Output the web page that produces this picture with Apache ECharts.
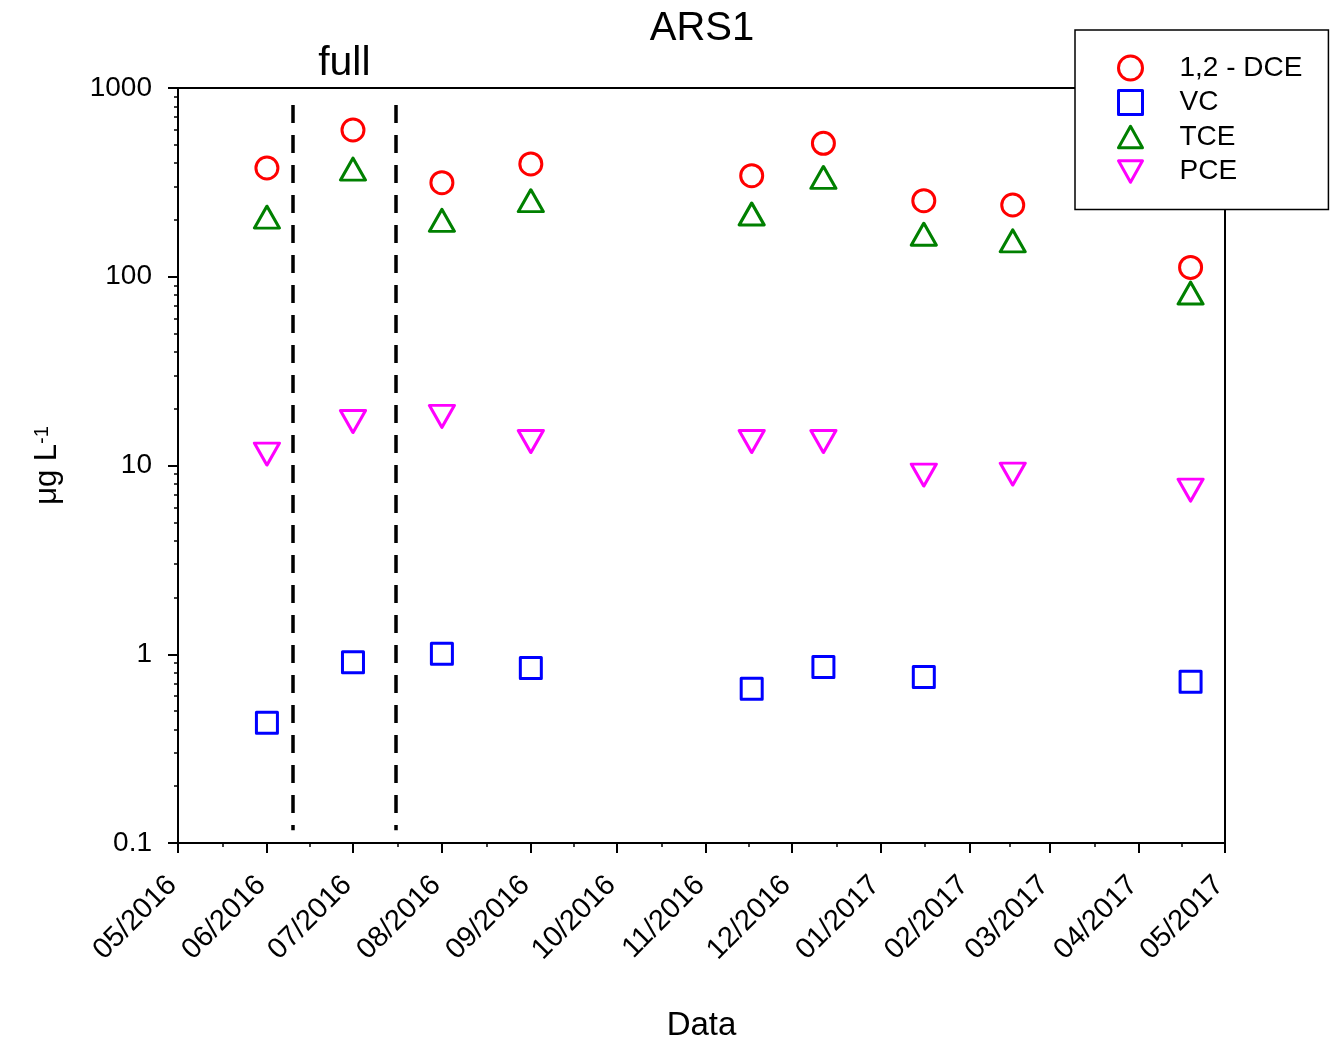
<!DOCTYPE html>
<html>
<head>
<meta charset="utf-8">
<title>ARS1</title>
<script src="https://cdn.jsdelivr.net/npm/echarts@6/dist/echarts.min.js"></script>
<style>
  html, body { margin: 0; padding: 0; background: #fff; }
  #chart { width: 1337px; height: 1044px; }
</style>
</head>
<body>
<div id="chart"></div>
<script>
// Sampling dates (one per campaign)
const sampleDates = ['2016-06-01', '2016-07-01', '2016-08-01', '2016-09-01', '2016-11-17',
                     '2016-12-12', '2017-01-16', '2017-02-16', '2017-04-19'];

// Concentrations, µg/L (null = not measured)
const dceValues = [377, 599, 315, 396, 343, 509, 253, 240, 112];
const vcValues  = [0.434, 0.906, 1.005, 0.846, 0.657, 0.856, 0.758, null, 0.716];
const tceValues = [207, 372, 199, 253, 215, 336, 168, 155, 82];
const pceValues = [11.5, 17.1, 18.2, 13.4, 13.4, 13.4, 8.9, 9.0, 7.4];

// Month boundaries used as x tick labels
const monthTicks = ['2016-05-01', '2016-06-01', '2016-07-01', '2016-08-01', '2016-09-01',
                    '2016-10-01', '2016-11-01', '2016-12-01', '2017-01-01', '2017-02-01',
                    '2017-03-01', '2017-04-01', '2017-05-01'];

// y axis range and minor tick values
const yMin = 0.1, yMax = 1000;
const yMinorTicks = [0.2, 0.3, 0.4, 0.5, 0.6, 0.7, 0.8, 0.9,
                     2, 3, 4, 5, 6, 7, 8, 9,
                     20, 30, 40, 50, 60, 70, 80, 90,
                     200, 300, 400, 500, 600, 700, 800, 900];

// "full" phase window (dashed boundaries) and vertical extent of the dashes
const fullPhase = ['2016-06-10', '2016-07-16'];
const phaseLineRange = [812, 0.117];

const FONT = '"Liberation Sans", Arial, sans-serif';
const TRI_UP = 'path://M5,0L10,9L0,9Z';
const TRI_DOWN = 'path://M0,0L10,0L5,9Z';

function ts(s) {
  const p = s.split('-').map(Number);
  return new Date(p[0], p[1] - 1, p[2]).getTime();
}
function pad2(n) { return (n < 10 ? '0' : '') + n; }

const monthTs = monthTicks.map(ts);
const midMonthTs = [];
for (let i = 0; i < monthTs.length - 1; i++) midMonthTs.push((monthTs[i] + monthTs[i + 1]) / 2);

function pairs(vals) {
  return sampleDates.map((d, i) => vals[i] == null ? null : [ts(d), vals[i]]).filter(Boolean);
}

function hollow(color) {
  return {
    color: 'rgba(255,255,255,0)', borderColor: color, borderWidth: 3,
    borderJoin: 'round', opacity: 1
  };
}

const chart = echarts.init(document.getElementById('chart'), null, { renderer: 'canvas' });

const option = {
  animation: false,
  backgroundColor: '#fff',
  title: {
    text: 'ARS1',
    left: 697,
    top: 4,
    textAlign: 'center',
    textStyle: { fontFamily: FONT, fontSize: 40, fontWeight: 'normal', color: '#000' }
  },
  legend: {
    orient: 'vertical',
    left: 1075,
    top: 30,
    padding: [24, 26, 24, 42],
    itemWidth: 24,
    itemHeight: 24,
    itemGap: 6.5,
    backgroundColor: '#fff',
    borderColor: '#000',
    borderWidth: 1.5,
    itemStyle: { borderWidth: 3 },
    textStyle: { fontFamily: FONT, fontSize: 28, color: '#000', padding: [0, 0, 0, 32] },
    data: ['1,2 - DCE', 'VC', 'TCE', 'PCE']
  },
  grid: {
    left: 178, right: 112, top: 88, bottom: 201,
    outerBoundsMode: 'none',
    containLabel: false,
    show: true, borderColor: '#000', borderWidth: 2, backgroundColor: 'transparent'
  },
  xAxis: [{
    type: 'value',
    min: monthTs[0],
    max: monthTs[monthTs.length - 1],
    axisLine: { onZero: false, lineStyle: { color: '#000', width: 2 } },
    axisTick: { show: true, length: 10, customValues: monthTs, lineStyle: { color: '#000', width: 2 } },
    axisLabel: {
      customValues: monthTs,
      rotate: 45,
      margin: 32,
      padding: [0, 8, 0, 0],
      fontFamily: FONT,
      fontSize: 29,
      color: '#000',
      formatter: function (v) {
        const d = new Date(v);
        return pad2(d.getMonth() + 1) + '/' + d.getFullYear();
      }
    },
    splitLine: { show: false },
    name: 'Data',
    nameLocation: 'middle',
    nameGap: 166,
    nameTextStyle: { fontFamily: FONT, fontSize: 33, color: '#000' }
  }, {
    type: 'value',
    position: 'bottom',
    min: monthTs[0],
    max: monthTs[monthTs.length - 1],
    axisLine: { show: false, onZero: false },
    axisTick: { show: true, length: 4, customValues: midMonthTs, lineStyle: { color: '#000', width: 1.5 } },
    axisLabel: { show: false },
    splitLine: { show: false }
  }],
  yAxis: [{
    type: 'log',
    logBase: 10,
    min: yMin,
    max: yMax,
    axisLine: { show: true, onZero: false, lineStyle: { color: '#000', width: 2 } },
    axisTick: { show: true, length: 10, lineStyle: { color: '#000', width: 2 } },
    axisLabel: {
      margin: 26, fontFamily: FONT, fontSize: 28, color: '#000',
      formatter: function (v) { return String(v); }
    },
    splitLine: { show: false },
    name: '{u|μg L}{s|-1}',
    nameLocation: 'middle',
    nameRotate: 90,
    nameGap: 115,
    nameTextStyle: {
      fontFamily: FONT,
      color: '#000',
      rich: {
        u: { fontFamily: FONT, fontSize: 31, color: '#000', verticalAlign: 'bottom' },
        s: { fontFamily: FONT, fontSize: 20, color: '#000', verticalAlign: 'top' }
      }
    }
  }, {
    // minor ticks of the log axis, placed in log10 space
    type: 'value',
    position: 'left',
    min: Math.log10(yMin),
    max: Math.log10(yMax),
    axisLine: { show: false, onZero: false },
    axisTick: { show: true, length: 4, customValues: yMinorTicks.map(v => Math.log10(v)), lineStyle: { color: '#000', width: 1.5 } },
    axisLabel: { show: false },
    splitLine: { show: false }
  }],
  series: [
    {
      name: '1,2 - DCE', type: 'scatter', symbol: 'circle', symbolSize: 22,
      itemStyle: hollow('#ff0000'), data: pairs(dceValues), z: 5,
      markArea: {
        silent: true,
        itemStyle: { color: 'rgba(0,0,0,0)' },
        label: {
          show: true, position: 'top', distance: 4,
          fontFamily: FONT, fontSize: 41, color: '#000'
        },
        data: [[{ name: 'full', xAxis: ts(fullPhase[0]) }, { xAxis: ts(fullPhase[1]) }]]
      },
      markLine: {
        silent: true,
        symbol: 'none',
        label: { show: false },
        lineStyle: { color: '#000', width: 3.5, type: [18, 12] },
        data: fullPhase.map(d => [
          { coord: [ts(d), phaseLineRange[0]] },
          { coord: [ts(d), phaseLineRange[1]] }
        ])
      }
    },
    {
      name: 'VC', type: 'scatter', symbol: 'rect', symbolSize: 21,
      itemStyle: hollow('#0000ff'), data: pairs(vcValues), z: 5
    },
    {
      name: 'TCE', type: 'scatter', symbol: TRI_UP, symbolSize: [25, 22],
      itemStyle: hollow('#008000'), data: pairs(tceValues), z: 5
    },
    {
      name: 'PCE', type: 'scatter', symbol: TRI_DOWN, symbolSize: [25, 22],
      itemStyle: hollow('#ff00ff'), data: pairs(pceValues), z: 5
    }
  ]
};

chart.setOption(option);
</script>
</body>
</html>
